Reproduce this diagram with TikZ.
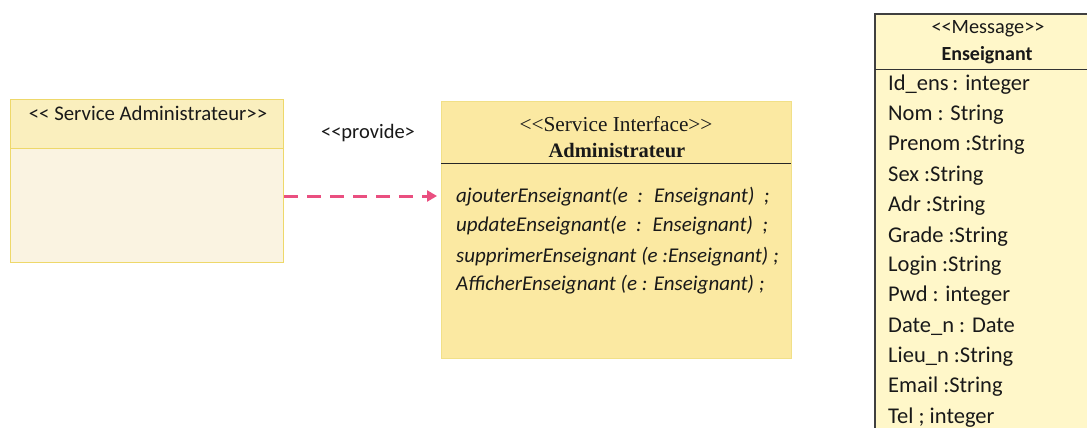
\documentclass[tikz,border=0pt]{standalone}
\usepackage{fontspec}
\setmainfont{Carlito}[Ligatures=TeXOff]
\newfontfamily\serifhead{Liberation Serif}[Ligatures=TeXOff]
\usetikzlibrary{arrows.meta}
\definecolor{goldline}{HTML}{EED86A}
\definecolor{headfill}{HTML}{FAEFBE}
\definecolor{bodyfill}{HTML}{FAF3E1}
\definecolor{ifill}{HTML}{FBE9A2}
\definecolor{msgfill}{HTML}{FFF7C9}
\definecolor{provide}{HTML}{EA4F80}
\tikzset{
  box/.style={draw=goldline, line width=1.2pt, anchor=north west, inner sep=0pt},
  sep/.style={line width=1pt},
  txt/.style={inner sep=0pt, text=black!90},
  attr/.style={txt, anchor=west, font=\fontsize{22.5}{24}\selectfont},
  meth/.style={txt, anchor=west, font=\fontsize{21}{23}\selectfont\itshape},
}
\begin{document}
\begin{tikzpicture}[x=1pt,y=-1pt]
\useasboundingbox (0,0) rectangle (1087,428);
\fill[white] (0,0) rectangle (1087,428);

% Service Administrateur component
\fill[bodyfill] (10,99) rectangle (283,262);
\fill[headfill] (10,99) rectangle (283,148);
\node[box, minimum width=273pt, minimum height=163pt] (svc) at (10,99) {};
\draw[goldline, sep] (10,148) -- (283,148);
\node[txt, font=\fontsize{20.8}{22}\selectfont] (svctitle) at (148,113) {<< Service Administrateur>>};

% Service Interface Administrateur
\node[box, fill=ifill, draw=goldline!80, minimum width=350pt, minimum height=257pt] (iface) at (441,101) {};
\draw[black!85, sep] (441,163) -- (791,163);
\node[txt, font=\serifhead\fontsize{21.3}{23}\selectfont] (ifst) at (616,124) {<<Service Interface>>};
\node[txt, font=\serifhead\bfseries\fontsize{20.5}{23}\selectfont] (ifname) at (617,151) {Administrateur};
\node[meth] (m1) at (456,197) {ajouterEnseignant(e \ : \ Enseignant) \ ;};
\node[meth] (m2) at (456,226) {updateEnseignant(e \ : \ Enseignant) \ ;};
\node[meth] (m3) at (456,257) {supprimerEnseignant (e :Enseignant) ;};
\node[meth] (m4) at (456,285) {AfficherEnseignant (e : Enseignant) ;};

% provide dependency
\coordinate (src) at (svc.east |- 0,196);
\coordinate (dst) at (437,196);
\draw[provide, line width=3pt, dash pattern=on 14pt off 9pt, -{Triangle[length=10pt,width=11pt]}] (src) -- (dst);
\node[txt, font=\fontsize{20.5}{22}\selectfont] (prov) at (368,133) {<<provide>};

% Message Enseignant
\fill[msgfill] (875,14) rectangle (1095,435);
\draw[black!75, line width=1.1pt] (1095,14) -- (875,14) -- (875,435);
\draw[black!80, sep] (875,70) -- (1095,70);
\node[box, draw=none, minimum width=220pt, minimum height=421pt] (msg) at (875,14) {};
\node[txt, font=\fontsize{20.3}{22}\selectfont] (msgst) at (988,29) {<<Message>>};
\node[txt, font=\bfseries\fontsize{20}{22}\selectfont] (msgname) at (987,55) {Enseignant};
\node[attr] (a1) at (888,85) {Id\_ens\,: integer};
\node[attr] (a2) at (888,115) {Nom : String};
\node[attr] (a3) at (888,145) {Prenom :String};
\node[attr] (a4) at (888,176) {Sex :String};
\node[attr] (a5) at (888,206) {Adr :String};
\node[attr] (a6) at (888,237) {Grade :String};
\node[attr] (a7) at (888,266) {Login :String};
\node[attr] (a8) at (888,296) {Pwd : integer};
\node[attr] (a9) at (888,327) {Date\_n : Date};
\node[attr] (a10) at (888,357) {Lieu\_n :String};
\node[attr] (a11) at (888,387) {Email :String};
\node[attr] (a12) at (888,418) {Tel ; integer};
\end{tikzpicture}
\end{document}
